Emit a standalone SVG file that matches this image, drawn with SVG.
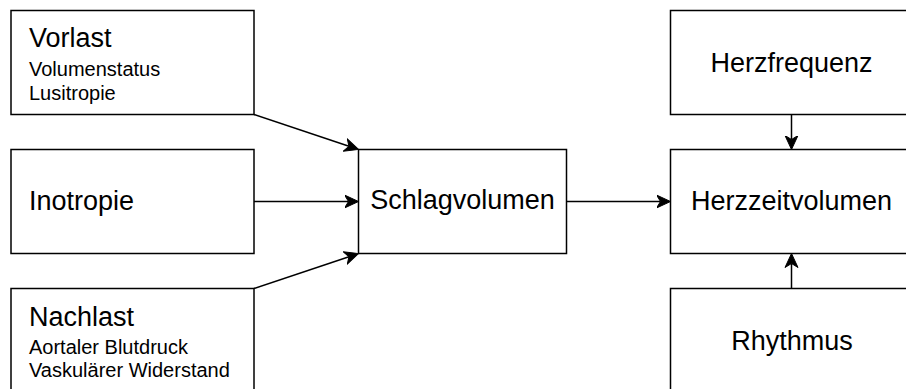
<svg xmlns="http://www.w3.org/2000/svg" width="906" height="389" viewBox="0 0 906 389">
<style>
.box{fill:#ffffff;stroke:#000000;stroke-width:1.5}
.edge{fill:none;stroke:#000000;stroke-width:1.5}
text{font-family:"Liberation Sans",Arial,Helvetica,sans-serif;fill:#000000}
.big{font-size:27px}
.small{font-size:20px}
.mid{text-anchor:middle}
</style>
<defs>
<marker id="arrow" markerUnits="userSpaceOnUse" markerWidth="16" markerHeight="16" viewBox="0 -8 16 16" refX="4" refY="0" orient="auto">
<path d="M0,-6.5 L14,0 L0,6.5 L4,0 Z" fill="#000000" stroke="#000000" stroke-width="1" stroke-linejoin="miter"/>
</marker>
</defs>
<rect width="906" height="389" fill="#ffffff"/>
<g id="vorlast">
<rect class="box" x="11" y="10.5" width="243" height="104"/>
<text class="big" x="29" y="47">Vorlast</text>
<text class="small" x="29" y="76">Volumenstatus</text>
<text class="small" x="29" y="99.5">Lusitropie</text>
</g>
<g id="inotropie">
<rect class="box" x="11" y="149.5" width="243" height="104"/>
<text class="big" x="29" y="209.5">Inotropie</text>
</g>
<g id="nachlast">
<rect class="box" x="11" y="288.5" width="243" height="104"/>
<text class="big" x="29" y="325.5">Nachlast</text>
<text class="small" x="29" y="354">Aortaler Blutdruck</text>
<text class="small" x="29" y="377">Vaskulärer Widerstand</text>
</g>
<g id="schlagvolumen">
<rect class="box" x="358.5" y="149.5" width="208" height="104"/>
<text class="big mid" x="462.5" y="209">Schlagvolumen</text>
</g>
<g id="herzfrequenz">
<rect class="box" x="670.5" y="10.5" width="242" height="104"/>
<text class="big mid" x="791.5" y="72">Herzfrequenz</text>
</g>
<g id="herzzeitvolumen">
<rect class="box" x="670.5" y="149.5" width="242" height="104"/>
<text class="big mid" x="791.5" y="209.5">Herzzeitvolumen</text>
</g>
<g id="rhythmus">
<rect class="box" x="670.5" y="288.5" width="242" height="104"/>
<text class="big mid" x="792" y="350">Rhythmus</text>
</g>
<g id="connectors">
<line class="edge" x1="254" y1="114.5" x2="349" y2="146.3" marker-end="url(#arrow)"/>
<line class="edge" x1="254" y1="201.5" x2="348.5" y2="201.5" marker-end="url(#arrow)"/>
<line class="edge" x1="254" y1="288.5" x2="349" y2="256.7" marker-end="url(#arrow)"/>
<line class="edge" x1="566.5" y1="201.5" x2="660.5" y2="201.5" marker-end="url(#arrow)"/>
<line class="edge" x1="791.5" y1="114.5" x2="791.5" y2="139.5" marker-end="url(#arrow)"/>
<line class="edge" x1="791.5" y1="288.5" x2="791.5" y2="263.5" marker-end="url(#arrow)"/>
</g>
</svg>
